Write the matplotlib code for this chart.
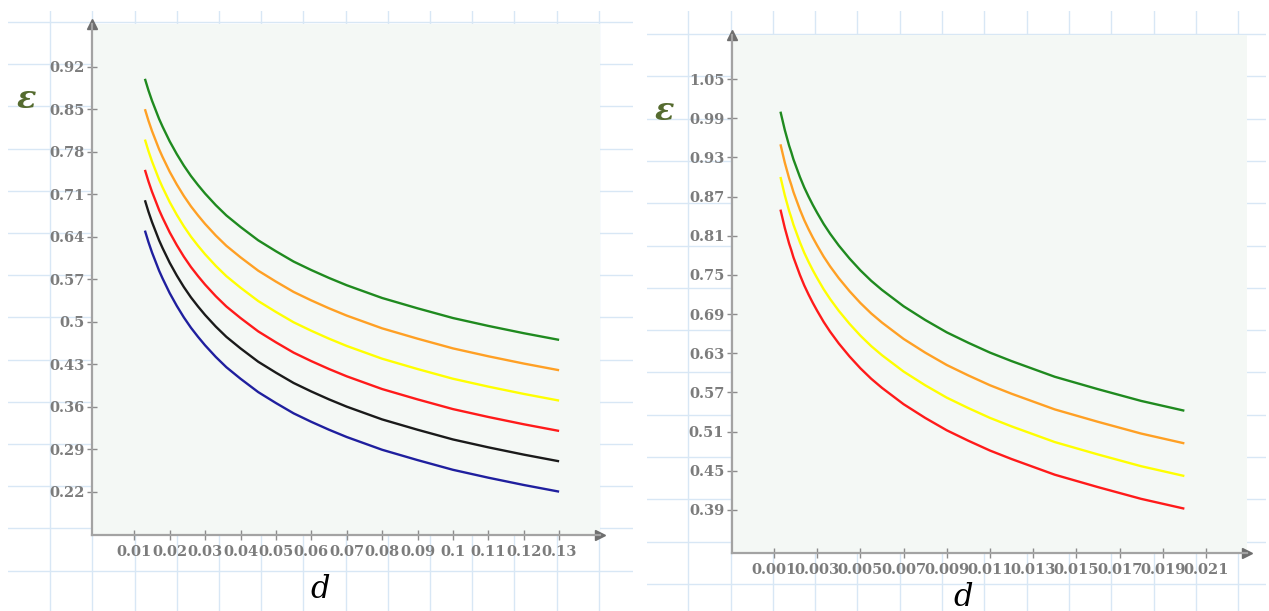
import numpy as np
import matplotlib
matplotlib.use("Agg")
import matplotlib.pyplot as plt

W, H = 1269, 611
DPI = 100

# ---- data: left chart (d from 0.013 to 0.13) ----
d_left = [0.013, 0.014, 0.015, 0.016, 0.017, 0.018, 0.019, 0.020, 0.022, 0.024,
          0.026, 0.028, 0.030, 0.033, 0.036, 0.040, 0.045, 0.050, 0.055, 0.060,
          0.065, 0.070, 0.080, 0.090, 0.100, 0.110, 0.120, 0.130]
eps_left_green = [0.900, 0.881, 0.864, 0.849, 0.834, 0.821, 0.809, 0.797, 0.776, 0.757,
                  0.740, 0.725, 0.711, 0.692, 0.675, 0.656, 0.634, 0.616, 0.599, 0.585,
                  0.572, 0.560, 0.539, 0.522, 0.506, 0.493, 0.481, 0.470]
eps_left_orange = [0.850, 0.831, 0.814, 0.799, 0.784, 0.771, 0.759, 0.747, 0.726, 0.707,
                   0.690, 0.675, 0.661, 0.642, 0.625, 0.606, 0.584, 0.566, 0.549, 0.535,
                   0.522, 0.510, 0.489, 0.472, 0.456, 0.443, 0.431, 0.420]
eps_left_yellow = [0.800, 0.781, 0.764, 0.749, 0.734, 0.721, 0.709, 0.697, 0.676, 0.657,
                   0.640, 0.625, 0.611, 0.592, 0.575, 0.556, 0.534, 0.516, 0.499, 0.485,
                   0.472, 0.460, 0.439, 0.422, 0.406, 0.393, 0.381, 0.370]
eps_left_red = [0.750, 0.731, 0.714, 0.699, 0.684, 0.671, 0.659, 0.647, 0.626, 0.607,
                0.590, 0.575, 0.561, 0.542, 0.525, 0.506, 0.484, 0.466, 0.449, 0.435,
                0.422, 0.410, 0.389, 0.372, 0.356, 0.343, 0.331, 0.320]
eps_left_black = [0.700, 0.681, 0.664, 0.649, 0.634, 0.621, 0.609, 0.597, 0.576, 0.557,
                  0.540, 0.525, 0.511, 0.492, 0.475, 0.456, 0.434, 0.416, 0.399, 0.385,
                  0.372, 0.360, 0.339, 0.322, 0.306, 0.293, 0.281, 0.270]
eps_left_blue = [0.650, 0.631, 0.614, 0.599, 0.584, 0.571, 0.559, 0.547, 0.526, 0.507,
                 0.490, 0.475, 0.461, 0.442, 0.425, 0.406, 0.384, 0.366, 0.349, 0.335,
                 0.322, 0.310, 0.289, 0.272, 0.256, 0.243, 0.231, 0.220]

xticks_left = [0.01, 0.02, 0.03, 0.04, 0.05, 0.06, 0.07, 0.08, 0.09, 0.1, 0.11, 0.12, 0.13]
xticklabels_left = ["0.01", "0.02", "0.03", "0.04", "0.05", "0.06", "0.07", "0.08",
                    "0.09", "0.1", "0.11", "0.12", "0.13"]
yticks_left = [0.22, 0.29, 0.36, 0.43, 0.5, 0.57, 0.64, 0.71, 0.78, 0.85, 0.92]
yticklabels_left = ["0.22", "0.29", "0.36", "0.43", "0.5", "0.57", "0.64", "0.71",
                    "0.78", "0.85", "0.92"]

# ---- data: right chart (d from 0.0013 to 0.02) ----
d_right = [0.0013, 0.0014, 0.0015, 0.0016, 0.0017, 0.0018, 0.0019, 0.0020, 0.0022,
           0.0024, 0.0026, 0.0028, 0.0030, 0.0033, 0.0036, 0.0040, 0.0045, 0.0050,
           0.0055, 0.0060, 0.0070, 0.0080, 0.0090, 0.0100, 0.0110, 0.0120, 0.0130,
           0.0140, 0.0160, 0.0180, 0.0200]
eps_right_green = [1.000, 0.986, 0.972, 0.960, 0.948, 0.938, 0.927, 0.918, 0.900,
                   0.884, 0.870, 0.857, 0.845, 0.828, 0.813, 0.795, 0.775, 0.757,
                   0.741, 0.727, 0.702, 0.681, 0.662, 0.646, 0.631, 0.618, 0.606,
                   0.594, 0.575, 0.557, 0.542]
eps_right_orange = [0.950, 0.936, 0.922, 0.910, 0.898, 0.888, 0.877, 0.868, 0.850,
                    0.834, 0.820, 0.807, 0.795, 0.778, 0.763, 0.745, 0.725, 0.707,
                    0.691, 0.677, 0.652, 0.631, 0.612, 0.596, 0.581, 0.568, 0.556,
                    0.544, 0.525, 0.507, 0.492]
eps_right_yellow = [0.900, 0.886, 0.872, 0.860, 0.848, 0.838, 0.827, 0.818, 0.800,
                    0.784, 0.770, 0.757, 0.745, 0.728, 0.713, 0.695, 0.675, 0.657,
                    0.641, 0.627, 0.602, 0.581, 0.562, 0.546, 0.531, 0.518, 0.506,
                    0.494, 0.475, 0.457, 0.442]
eps_right_red = [0.850, 0.836, 0.822, 0.810, 0.798, 0.788, 0.777, 0.768, 0.750,
                 0.734, 0.720, 0.707, 0.695, 0.678, 0.663, 0.645, 0.625, 0.607,
                 0.591, 0.577, 0.552, 0.531, 0.512, 0.496, 0.481, 0.468, 0.456,
                 0.444, 0.425, 0.407, 0.392]

xticks_right = [0.001, 0.003, 0.005, 0.007, 0.009, 0.011, 0.013, 0.015, 0.017, 0.019, 0.021]
xticklabels_right = ["0.001", "0.003", "0.005", "0.007", "0.009", "0.011", "0.013",
                     "0.015", "0.017", "0.019", "0.021"]
yticks_right = [0.39, 0.45, 0.51, 0.57, 0.63, 0.69, 0.75, 0.81, 0.87, 0.93, 0.99, 1.05]
yticklabels_right = ["0.39", "0.45", "0.51", "0.57", "0.63", "0.69", "0.75", "0.81",
                     "0.87", "0.93", "0.99", "1.05"]

# ---- styling ----
PAPER = "#f4f8f5"
GRID = "#d8e7f5"
AXIS = "#a3a3a3"
ARROW = "#6e6e6e"
TICKTXT = "#7c7c7c"
C_GREEN = "#1f8a1f"
C_ORANGE = "#ffa024"
C_YELLOW = "#ffff00"
C_RED = "#ff1a1a"
C_BLACK = "#1a1a1a"
C_BLUE = "#1f1f9e"
EPS_COLOR = "#556b2f"

fig = plt.figure(figsize=(W / DPI, H / DPI), dpi=DPI, facecolor="white")


def px_axes(x0, y0, x1, y1, **kw):
    """Axes placed by pixel box (top-left origin)."""
    return fig.add_axes([x0 / W, 1 - y1 / H, (x1 - x0) / W, (y1 - y0) / H], **kw)


def paper(x0, y0, x1, y1, gx0, gy0, step):
    ax = px_axes(x0, y0, x1, y1)
    ax.set_facecolor(PAPER)
    ax.set_xlim(x0, x1)
    ax.set_ylim(y1, y0)
    for gx in np.arange(gx0, x1, step):
        if gx > x0 + 0.5:
            ax.axvline(gx, color=GRID, lw=1.0)
    for gy in np.arange(gy0, y1, step):
        if gy > y0 + 0.5:
            ax.axhline(gy, color=GRID, lw=1.0)
    ax.set_axis_off()
    return ax


def chart(box, xlim, ylim, xticks, xlabels, yticks, ylabels, d, series,
          eps_pos, d_pos):
    ax = px_axes(*box)
    ax.set_facecolor(PAPER)
    ax.set_xlim(*xlim)
    ax.set_ylim(*ylim)
    for vals, col in series:
        ax.plot(d, vals, color=col, lw=1.7, solid_capstyle="butt",
                solid_joinstyle="round")
    for s in ("top", "right"):
        ax.spines[s].set_visible(False)
    for s in ("left", "bottom"):
        ax.spines[s].set_color(AXIS)
        ax.spines[s].set_linewidth(1.6)
    ax.set_xticks(xticks)
    ax.set_xticklabels(xlabels)
    ax.set_yticks(yticks)
    ax.set_yticklabels(ylabels)
    ax.tick_params(axis="both", direction="inout", length=7, width=1.0,
                   color="#8c8c8c", labelcolor=TICKTXT, labelsize=10.5)
    ax.tick_params(axis="x", pad=4)
    ax.tick_params(axis="y", pad=2)
    for lab in ax.get_xticklabels() + ax.get_yticklabels():
        lab.set_fontfamily("DejaVu Serif")
        lab.set_fontweight("bold")
    ax.plot([0], [1], marker="^", ms=7, color=ARROW, transform=ax.transAxes,
            clip_on=False)
    ax.plot([1], [0], marker=">", ms=7, color=ARROW, transform=ax.transAxes,
            clip_on=False)
    fig.text(eps_pos[0] / W, 1 - eps_pos[1] / H, "ε", color=EPS_COLOR,
             fontsize=23, fontstyle="italic", fontweight="bold",
             family="DejaVu Serif", ha="center", va="center")
    fig.text(d_pos[0] / W, 1 - d_pos[1] / H, "d", color="black",
             fontsize=22, fontstyle="italic", family="DejaVu Serif",
             ha="center", va="center")
    return ax


# left sheet
paper(8, 11, 633, 611, 8.0, 22.0, 42.2)
chart((92.5, 24, 600, 535), (-0.00181, 0.14155), (0.1486, 0.9903),
      xticks_left, xticklabels_left, yticks_left, yticklabels_left,
      d_left,
      [(eps_left_green, C_GREEN), (eps_left_orange, C_ORANGE),
       (eps_left_yellow, C_YELLOW), (eps_left_red, C_RED),
       (eps_left_black, C_BLACK), (eps_left_blue, C_BLUE)],
      (26, 99), (320, 589))

# right sheet
paper(647, 11, 1266, 611, 646.0, 34.0, 42.3)
chart((732, 35, 1247, 553), (-0.000944, 0.0229), (0.3241, 1.1174),
      xticks_right, xticklabels_right, yticks_right, yticklabels_right,
      d_right,
      [(eps_right_green, C_GREEN), (eps_right_orange, C_ORANGE),
       (eps_right_yellow, C_YELLOW), (eps_right_red, C_RED)],
      (664, 111), (963, 597))

fig.savefig("out.png", dpi=DPI, facecolor="white")
